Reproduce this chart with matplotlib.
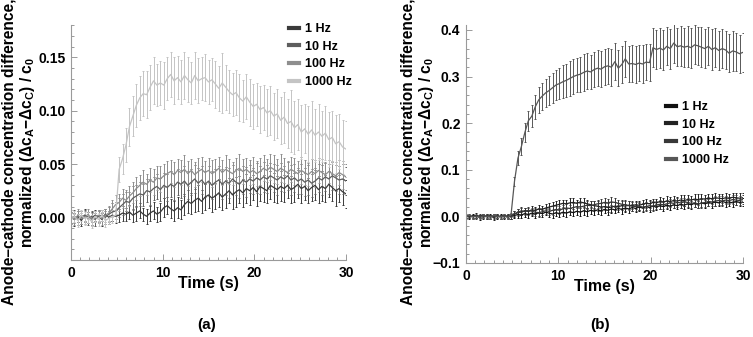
#### imports ####
import numpy as np
import matplotlib
matplotlib.use('Agg')
import matplotlib.pyplot as plt
from matplotlib.lines import Line2D
from matplotlib.ticker import MultipleLocator, FuncFormatter

plt.rcParams['font.family'] = 'Liberation Sans'
plt.rcParams['font.weight'] = 'bold'
plt.rcParams['axes.labelweight'] = 'bold'
plt.rcParams['mathtext.fontset'] = 'custom'
plt.rcParams['mathtext.rm'] = 'Liberation Sans:bold'
plt.rcParams['mathtext.it'] = 'Liberation Sans:bold'
plt.rcParams['mathtext.bf'] = 'Liberation Sans:bold'

#### data ####
dt = 0.375  # frame spacing [s]
labels = ['1 Hz', '10 Hz', '100 Hz', '1000 Hz']

# panel (a)
a_1hz = [0.000, -0.002, 0.001, -0.003, 0.002, 0.000, -0.001, 0.002, 0.001, -0.002,
         0.003, 0.000, 0.002, 0.001, 0.002, 0.004, 0.003, 0.005, 0.002, 0.004,
         0.006, 0.003, 0.001, 0.004, 0.006, 0.003, 0.005, 0.009, 0.011, 0.008,
         0.006, 0.009, 0.007, 0.012, 0.015, 0.013, 0.016, 0.018, 0.015, 0.019,
         0.021, 0.018, 0.020, 0.023, 0.019, 0.022, 0.025, 0.021, 0.024, 0.026,
         0.023, 0.027, 0.025, 0.028, 0.024, 0.029, 0.027, 0.025, 0.030, 0.028,
         0.026, 0.029, 0.027, 0.030, 0.026, 0.028, 0.031, 0.027, 0.029, 0.025,
         0.028, 0.030, 0.026, 0.029, 0.027, 0.031, 0.028, 0.025, 0.027, 0.024,
         0.022]
a_1hz_err = [0.005, 0.006, 0.005, 0.005, 0.006, 0.005, 0.006, 0.005, 0.005, 0.006,
             0.005, 0.006, 0.005, 0.006, 0.006, 0.007, 0.006, 0.007, 0.006, 0.007,
             0.007, 0.006, 0.007, 0.007, 0.008, 0.007, 0.008, 0.009, 0.008, 0.009,
             0.009, 0.010, 0.009, 0.010, 0.011, 0.010, 0.011, 0.012, 0.011, 0.012,
             0.012, 0.013, 0.012, 0.013, 0.012, 0.013, 0.012, 0.013, 0.014, 0.013,
             0.013, 0.014, 0.013, 0.012, 0.013, 0.014, 0.013, 0.012, 0.013, 0.014,
             0.013, 0.014, 0.013, 0.012, 0.013, 0.014, 0.013, 0.014, 0.013, 0.012,
             0.013, 0.014, 0.013, 0.014, 0.013, 0.012, 0.013, 0.014, 0.013, 0.012,
             0.013]

a_10hz = [-0.001, 0.001, -0.002, 0.000, 0.002, -0.001, 0.001, -0.002, 0.001, 0.002,
          0.000, 0.003, 0.005, 0.006, 0.009, 0.012, 0.015, 0.014, 0.018, 0.020,
          0.022, 0.021, 0.025, 0.024, 0.027, 0.029, 0.026, 0.030, 0.028, 0.031,
          0.029, 0.033, 0.031, 0.034, 0.030, 0.033, 0.036, 0.032, 0.035, 0.031,
          0.034, 0.030, 0.033, 0.035, 0.031, 0.034, 0.032, 0.036, 0.033, 0.031,
          0.035, 0.033, 0.036, 0.034, 0.037, 0.035, 0.038, 0.036, 0.039, 0.037,
          0.035, 0.038, 0.036, 0.039, 0.035, 0.037, 0.034, 0.036, 0.033, 0.035,
          0.032, 0.034, 0.037, 0.035, 0.038, 0.036, 0.039, 0.037, 0.035, 0.036,
          0.034]
a_10hz_err = [0.005, 0.006, 0.005, 0.006, 0.005, 0.006, 0.005, 0.006, 0.006, 0.005,
              0.006, 0.007, 0.008, 0.008, 0.009, 0.010, 0.009, 0.010, 0.011, 0.010,
              0.011, 0.010, 0.011, 0.012, 0.011, 0.012, 0.011, 0.012, 0.013, 0.012,
              0.013, 0.012, 0.013, 0.014, 0.013, 0.012, 0.013, 0.014, 0.013, 0.012,
              0.014, 0.013, 0.012, 0.013, 0.014, 0.013, 0.014, 0.013, 0.012, 0.013,
              0.013, 0.014, 0.013, 0.012, 0.014, 0.013, 0.014, 0.013, 0.012, 0.013,
              0.014, 0.013, 0.012, 0.013, 0.014, 0.013, 0.012, 0.014, 0.013, 0.014,
              0.013, 0.012, 0.013, 0.014, 0.013, 0.014, 0.013, 0.012, 0.013, 0.014,
              0.013]

a_100hz = [0.001, -0.002, 0.002, -0.001, 0.000, 0.003, -0.002, 0.001, 0.002, -0.001,
           0.002, 0.004, 0.008, 0.012, 0.014, 0.018, 0.016, 0.020, 0.023, 0.027,
           0.030, 0.033, 0.031, 0.035, 0.033, 0.037, 0.036, 0.039, 0.041, 0.043,
           0.040, 0.044, 0.042, 0.045, 0.041, 0.044, 0.040, 0.043, 0.045, 0.042,
           0.044, 0.041, 0.043, 0.046, 0.042, 0.045, 0.043, 0.041, 0.044, 0.046,
           0.043, 0.045, 0.042, 0.044, 0.041, 0.043, 0.046, 0.044, 0.047, 0.045,
           0.043, 0.046, 0.044, 0.042, 0.045, 0.043, 0.041, 0.044, 0.042, 0.040,
           0.043, 0.041, 0.044, 0.042, 0.040, 0.043, 0.041, 0.039, 0.042, 0.040,
           0.038]
a_100hz_err = [0.006, 0.005, 0.006, 0.005, 0.006, 0.005, 0.006, 0.005, 0.005, 0.006,
               0.006, 0.007, 0.008, 0.009, 0.008, 0.009, 0.010, 0.009, 0.010, 0.011,
               0.010, 0.011, 0.010, 0.011, 0.012, 0.011, 0.012, 0.011, 0.012, 0.011,
               0.012, 0.011, 0.012, 0.013, 0.012, 0.011, 0.012, 0.013, 0.012, 0.011,
               0.012, 0.013, 0.012, 0.011, 0.012, 0.013, 0.012, 0.011, 0.012, 0.013,
               0.012, 0.011, 0.012, 0.013, 0.012, 0.013, 0.012, 0.011, 0.012, 0.013,
               0.012, 0.013, 0.012, 0.011, 0.012, 0.013, 0.012, 0.013, 0.012, 0.011,
               0.012, 0.013, 0.012, 0.013, 0.012, 0.011, 0.012, 0.013, 0.012, 0.013,
               0.012]

a_1000hz = [-0.002, 0.001, -0.003, 0.002, -0.001, 0.000, -0.004, 0.001, -0.002, 0.002,
            -0.003, -0.001, 0.001, 0.002, 0.045, 0.055, 0.068, 0.085, 0.095, 0.105,
            0.112, 0.116, 0.115, 0.122, 0.128, 0.124, 0.126, 0.124, 0.130, 0.134,
            0.128, 0.131, 0.127, 0.133, 0.129, 0.126, 0.133, 0.128, 0.130, 0.131,
            0.127, 0.129, 0.125, 0.121, 0.126, 0.122, 0.118, 0.115, 0.117, 0.112,
            0.109, 0.113, 0.108, 0.104, 0.106, 0.101, 0.103, 0.098, 0.100, 0.095,
            0.097, 0.091, 0.094, 0.088, 0.090, 0.084, 0.087, 0.080, 0.083, 0.078,
            0.082, 0.077, 0.080, 0.076, 0.079, 0.073, 0.075, 0.069, 0.071, 0.066,
            0.064]
a_1000hz_err = [0.006, 0.005, 0.006, 0.005, 0.006, 0.005, 0.006, 0.005, 0.006, 0.005,
                0.006, 0.005, 0.006, 0.006, 0.012, 0.014, 0.016, 0.018, 0.019, 0.020,
                0.021, 0.021, 0.022, 0.021, 0.022, 0.020, 0.021, 0.022, 0.020, 0.021,
                0.022, 0.020, 0.021, 0.022, 0.021, 0.020, 0.022, 0.021, 0.020, 0.022,
                0.021, 0.020, 0.022, 0.021, 0.028, 0.021, 0.020, 0.020, 0.021, 0.022,
                0.020, 0.021, 0.022, 0.021, 0.020, 0.022, 0.021, 0.022, 0.023, 0.022,
                0.023, 0.022, 0.024, 0.023, 0.029, 0.025, 0.024, 0.025, 0.023, 0.026,
                0.027, 0.025, 0.026, 0.024, 0.025, 0.026, 0.025, 0.027, 0.026, 0.025,
                0.026]

# panel (b)
b_1hz = [0.000, -0.001, 0.001, 0.000, -0.002, 0.001, -0.001, 0.000, 0.001, -0.001,
         0.000, 0.001, -0.001, 0.000, 0.002, 0.004, 0.003, 0.006, 0.004, 0.007,
         0.005, 0.008, 0.006, 0.009, 0.007, 0.005, 0.008, 0.006, 0.009, 0.007,
         0.010, 0.008, 0.011, 0.009, 0.012, 0.010, 0.013, 0.011, 0.014, 0.012,
         0.015, 0.013, 0.016, 0.014, 0.017, 0.015, 0.018, 0.016, 0.019, 0.017,
         0.020, 0.018, 0.021, 0.019, 0.022, 0.020, 0.023, 0.021, 0.024, 0.022,
         0.025, 0.023, 0.026, 0.024, 0.027, 0.025, 0.028, 0.026, 0.029, 0.027,
         0.030, 0.028, 0.031, 0.029, 0.032, 0.030, 0.031, 0.029, 0.032, 0.030,
         0.031]
b_1hz_err = [0.004, 0.005, 0.004, 0.004, 0.005, 0.004, 0.004, 0.005, 0.004, 0.004,
             0.005, 0.004, 0.004, 0.005, 0.006, 0.007, 0.006, 0.007, 0.008, 0.007,
             0.008, 0.007, 0.008, 0.007, 0.008, 0.009, 0.008, 0.007, 0.008, 0.009,
             0.008, 0.007, 0.008, 0.009, 0.008, 0.009, 0.008, 0.007, 0.008, 0.009,
             0.008, 0.009, 0.008, 0.007, 0.008, 0.009, 0.008, 0.009, 0.008, 0.007,
             0.008, 0.009, 0.008, 0.009, 0.008, 0.007, 0.008, 0.009, 0.008, 0.009,
             0.008, 0.007, 0.008, 0.009, 0.008, 0.009, 0.008, 0.007, 0.008, 0.009,
             0.008, 0.009, 0.008, 0.007, 0.008, 0.009, 0.008, 0.009, 0.008, 0.007,
             0.008]

b_10hz = [0.001, 0.000, -0.001, 0.002, 0.000, -0.001, 0.001, 0.000, -0.002, 0.001,
          0.000, -0.001, 0.001, 0.000, 0.005, 0.008, 0.010, 0.012, 0.011, 0.014,
          0.013, 0.016, 0.015, 0.018, 0.020, 0.022, 0.024, 0.026, 0.028, 0.027,
          0.029, 0.030, 0.028, 0.031, 0.029, 0.027, 0.025, 0.023, 0.022, 0.020,
          0.021, 0.019, 0.020, 0.022, 0.021, 0.023, 0.022, 0.024, 0.023, 0.025,
          0.024, 0.026, 0.028, 0.027, 0.030, 0.029, 0.032, 0.031, 0.033, 0.032,
          0.034, 0.033, 0.035, 0.034, 0.036, 0.035, 0.037, 0.036, 0.038, 0.037,
          0.039, 0.038, 0.040, 0.039, 0.038, 0.040, 0.039, 0.041, 0.040, 0.039,
          0.040]
b_10hz_err = [0.005, 0.004, 0.004, 0.005, 0.004, 0.005, 0.004, 0.004, 0.005, 0.004,
              0.004, 0.005, 0.004, 0.005, 0.006, 0.007, 0.008, 0.007, 0.008, 0.009,
              0.008, 0.009, 0.008, 0.009, 0.008, 0.009, 0.010, 0.009, 0.008, 0.009,
              0.010, 0.009, 0.008, 0.009, 0.010, 0.009, 0.008, 0.009, 0.010, 0.009,
              0.008, 0.009, 0.010, 0.009, 0.008, 0.009, 0.010, 0.009, 0.008, 0.009,
              0.010, 0.009, 0.010, 0.009, 0.008, 0.009, 0.010, 0.009, 0.010, 0.009,
              0.010, 0.009, 0.010, 0.011, 0.010, 0.009, 0.010, 0.011, 0.010, 0.009,
              0.010, 0.011, 0.010, 0.009, 0.010, 0.011, 0.010, 0.009, 0.010, 0.011,
              0.010]

b_100hz = [-0.001, 0.001, 0.000, -0.001, 0.001, 0.002, 0.000, -0.001, 0.000, 0.001,
           -0.001, 0.000, 0.001, -0.001, 0.006, 0.009, 0.012, 0.010, 0.013, 0.011,
           0.009, 0.008, 0.010, 0.012, 0.011, 0.013, 0.015, 0.014, 0.016, 0.018,
           0.017, 0.019, 0.021, 0.020, 0.022, 0.024, 0.023, 0.025, 0.027, 0.028,
           0.030, 0.029, 0.031, 0.030, 0.028, 0.026, 0.025, 0.023, 0.022, 0.021,
           0.022, 0.020, 0.021, 0.023, 0.022, 0.024, 0.026, 0.025, 0.027, 0.029,
           0.028, 0.030, 0.029, 0.031, 0.030, 0.028, 0.029, 0.027, 0.028, 0.030,
           0.032, 0.031, 0.033, 0.034, 0.033, 0.035, 0.034, 0.036, 0.035, 0.034,
           0.036]
b_100hz_err = [0.004, 0.005, 0.004, 0.005, 0.004, 0.004, 0.005, 0.004, 0.005, 0.004,
               0.005, 0.004, 0.004, 0.005, 0.006, 0.007, 0.008, 0.007, 0.008, 0.007,
               0.008, 0.009, 0.008, 0.007, 0.008, 0.009, 0.008, 0.009, 0.008, 0.009,
               0.008, 0.009, 0.010, 0.009, 0.008, 0.009, 0.010, 0.009, 0.008, 0.009,
               0.010, 0.009, 0.010, 0.009, 0.008, 0.009, 0.010, 0.009, 0.010, 0.009,
               0.008, 0.009, 0.010, 0.009, 0.010, 0.009, 0.010, 0.009, 0.008, 0.009,
               0.010, 0.009, 0.010, 0.009, 0.010, 0.009, 0.008, 0.009, 0.010, 0.009,
               0.010, 0.009, 0.010, 0.009, 0.010, 0.009, 0.008, 0.009, 0.010, 0.009,
               0.010]

b_1000hz = [0.000, 0.002, -0.001, 0.001, -0.002, 0.001, 0.000, -0.001, 0.002, 0.000,
            -0.001, 0.001, -0.002, 0.003, 0.075, 0.125, 0.150, 0.180, 0.205, 0.215,
            0.235, 0.250, 0.258, 0.265, 0.270, 0.276, 0.282, 0.285, 0.289, 0.292,
            0.296, 0.300, 0.303, 0.305, 0.309, 0.312, 0.310, 0.315, 0.318, 0.316,
            0.321, 0.323, 0.320, 0.332, 0.318, 0.326, 0.338, 0.327, 0.328, 0.326,
            0.329, 0.327, 0.331, 0.330, 0.362, 0.358, 0.361, 0.357, 0.365, 0.360,
            0.372, 0.364, 0.366, 0.363, 0.365, 0.362, 0.368, 0.366, 0.363, 0.360,
            0.365, 0.358, 0.362, 0.356, 0.360, 0.357, 0.350, 0.355, 0.353, 0.349,
            0.352]
b_1000hz_err = [0.004, 0.004, 0.004, 0.004, 0.004, 0.004, 0.004, 0.004, 0.004, 0.004,
                0.004, 0.004, 0.004, 0.005, 0.010, 0.015, 0.018, 0.020, 0.022, 0.024,
                0.026, 0.028, 0.029, 0.030, 0.031, 0.032, 0.033, 0.034, 0.035, 0.036,
                0.037, 0.038, 0.037, 0.038, 0.039, 0.038, 0.037, 0.038, 0.039, 0.038,
                0.039, 0.038, 0.040, 0.039, 0.038, 0.040, 0.039, 0.038, 0.040, 0.039,
                0.038, 0.040, 0.039, 0.040, 0.042, 0.041, 0.043, 0.042, 0.041, 0.043,
                0.042, 0.041, 0.043, 0.042, 0.044, 0.043, 0.042, 0.041, 0.043, 0.042,
                0.041, 0.043, 0.042, 0.041, 0.042, 0.040, 0.041, 0.042, 0.040, 0.041,
                0.042]

series_a = [(a_1hz, a_1hz_err), (a_10hz, a_10hz_err), (a_100hz, a_100hz_err), (a_1000hz, a_1000hz_err)]
series_b = [(b_1hz, b_1hz_err), (b_10hz, b_10hz_err), (b_100hz, b_100hz_err), (b_1000hz, b_1000hz_err)]
for y, e in series_a + series_b:
    assert len(y) == 81 and len(e) == 81, (len(y), len(e))
time = dt * np.arange(81)

colors_a = ['#3a3a3a', '#5e5e5e', '#8e8e8e', '#c4c4c4']
colors_b = ['#111111', '#222222', '#383838', '#575757']

ylabel = 'Anode\u2013cathode concentration difference,\nnormalized (\u0394c$_A$\u2212\u0394c$_C$) / c$_0$'

#### figure ####
W, H = 753, 337
fig = plt.figure(figsize=(W / 100, H / 100), dpi=100)

def px_axes(x0, x1, ytop, ybot):
    return fig.add_axes([x0 / W, 1 - ybot / H, (x1 - x0) / W, (ybot - ytop) / H])

def style(ax, ylim, major, minor, fmt):
    ax.set_xlim(0, 30)
    ax.set_ylim(*ylim)
    for s in ['top', 'right']:
        ax.spines[s].set_visible(False)
    for s in ['left', 'bottom']:
        ax.spines[s].set_color('#9a9a9a')
        ax.spines[s].set_linewidth(0.8)
    ax.xaxis.set_major_locator(MultipleLocator(10))
    ax.xaxis.set_minor_locator(MultipleLocator(1))
    ax.yaxis.set_major_locator(MultipleLocator(major))
    ax.yaxis.set_minor_locator(MultipleLocator(minor))
    ax.yaxis.set_major_formatter(FuncFormatter(lambda v, p: (fmt % v).replace('-', '\u2212')))
    ax.tick_params(which='both', direction='in', color='#9a9a9a', width=0.7,
                   labelsize=10, pad=4)
    ax.tick_params(which='major', length=4.5)
    ax.tick_params(which='minor', length=2.5)
    ax.set_xlabel('Time (s)', fontsize=11.5, fontweight='bold', labelpad=-2.5)
    for t in ax.get_xticklabels() + ax.get_yticklabels():
        t.set_fontweight('bold')

def draw(ax, series, colors):
    for (y, e), c in zip(series, colors):
        ax.errorbar(time, y, yerr=e, color=c, lw=0.9, elinewidth=0.7,
                    capsize=1.0, capthick=0.7)

def legend(ax, colors, x, y):
    handles = [Line2D([], [], color=c, lw=3) for c in colors]
    ax.legend(handles, labels, loc='upper left', bbox_to_anchor=(x / W, 1 - y / H),
              bbox_transform=fig.transFigure, frameon=False,
              prop={'size': 9, 'weight': 'bold'},
              handlelength=0.8, handletextpad=0.5, labelspacing=0.45,
              borderpad=0, borderaxespad=0)

## panel (a)
ax1 = px_axes(71, 346, 25.4, 260)
draw(ax1, series_a, colors_a)
style(ax1, (-0.04, 0.18), 0.05, 0.01, '%.2f')
legend(ax1, colors_a, 289, 23)
fig.text(19 / W, 1 - 152 / H, ylabel, rotation=90, ha='center', va='center',
         fontsize=11.2, fontweight='bold', linespacing=1.1, multialignment='center')
fig.text(207 / W, 1 - 325 / H, '(a)', ha='center', va='center', fontsize=11)

## panel (b)
ax2 = px_axes(466, 743, 25.3, 263)
draw(ax2, series_b, colors_b)
style(ax2, (-0.1, 0.41), 0.1, 0.02, '%.1f')
legend(ax2, colors_b, 666, 101)
fig.text(418 / W, 1 - 152 / H, ylabel, rotation=90, ha='center', va='center',
         fontsize=11.2, fontweight='bold', linespacing=1.1, multialignment='center')
fig.text(600 / W, 1 - 325 / H, '(b)', ha='center', va='center', fontsize=11)

fig.savefig('out.png', dpi=100)
